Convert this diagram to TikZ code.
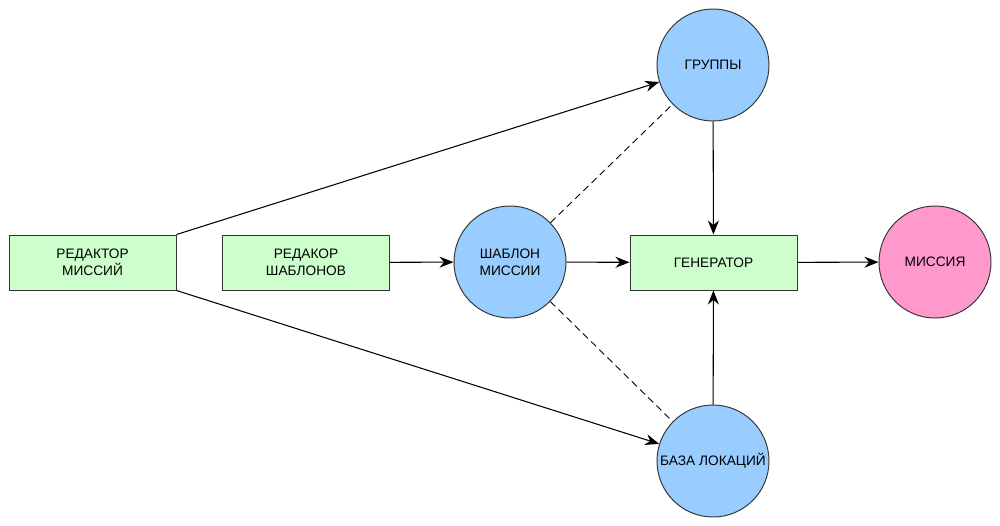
\documentclass[tikz,border=0pt]{standalone}
\usepackage{fontspec}
\setmainfont{Liberation Sans}
\usepackage{tikz}
\usetikzlibrary{arrows.meta,shapes,positioning,calc}

\definecolor{boxgreen}{HTML}{CCFFCC}
\definecolor{nodeblue}{HTML}{99CCFF}
\definecolor{nodepink}{HTML}{FF99CC}

\begin{document}
\begin{tikzpicture}[
  every node/.style={font=\fontsize{7.8}{9.5}\selectfont, align=center},
  block/.style={draw=black!80, fill=boxgreen, line width=0.55pt, minimum width=3.34cm, minimum height=1.1cm, inner sep=0pt},
  store/.style={draw=black!80, circle, fill=nodeblue, line width=0.55pt, minimum size=2.24cm, inner sep=0pt},
  result/.style={store, fill=nodepink},
  link/.style={draw, line width=0.6pt, -{Stealth[length=2.8mm, width=2.2mm]}},
  hint/.style={draw, line width=0.5pt, dash pattern=on 4pt off 2.5pt}
]
\useasboundingbox (0,0) rectangle (20,-10.5);

\draw (1.85,-5.25) node[block] (redm) {РЕДАКТОР\\МИССИЙ};
\draw (6.12,-5.25) node[block] (reds) {РЕДАКОР\\ШАБЛОНОВ};
\draw (10.2,-5.24) node[store] (shab) {ШАБЛОН\\МИССИИ};
\draw (14.27,-5.25) node[block] (gen) {ГЕНЕРАТОР};
\draw (18.7,-5.24) node[result] (mis) {МИССИЯ};
\draw (14.26,-1.3) node[store] (grp) {ГРУППЫ};
\draw (14.26,-9.22) node[store] (baza) {БАЗА ЛОКАЦИЙ};

\path[link] (redm.north east) -- (grp);
\path[link] (redm.south east) -- (baza);
\path[link] (reds) -- (shab);
\path[link] (shab) -- (gen);
\path[link] (gen) -- (mis);
\path[link] (grp) -- (gen);
\path[link] (baza) -- (gen);

\path[hint] (shab) -- (grp);
\path[hint] (shab) -- (baza);

\end{tikzpicture}
\end{document}
